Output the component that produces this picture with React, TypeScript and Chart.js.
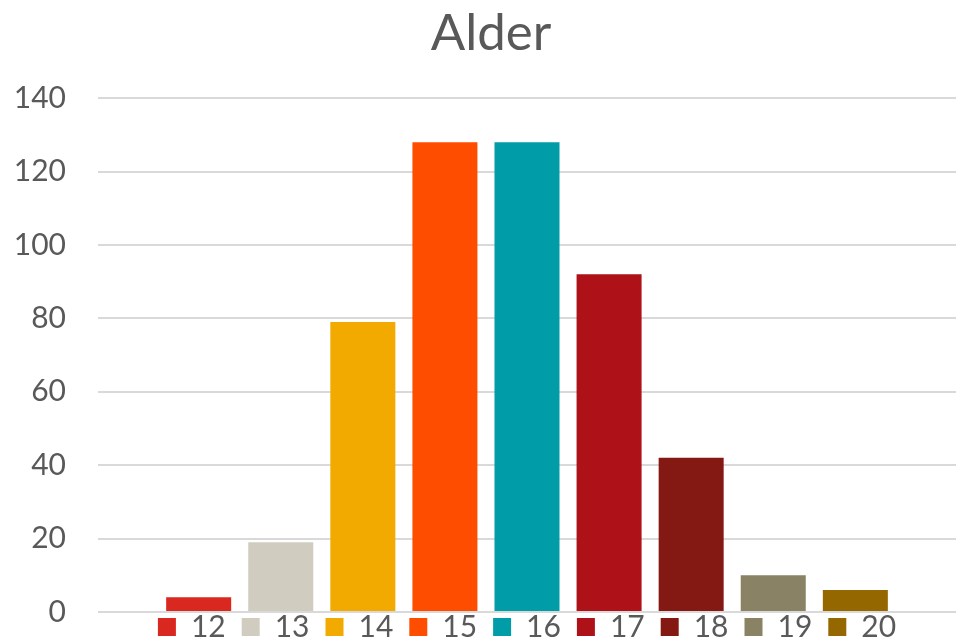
import React, { useEffect, useRef } from "react";
import { Chart, registerables } from "chart.js";

Chart.register(...registerables);

const title = "Alder";
const categories = [""];
const seriesLabels = ["12", "13", "14", "15", "16", "17", "18", "19", "20"];
const seriesValues = [4, 19, 79, 128, 128, 92, 42, 10, 6];
const seriesColors = [
  "#D9281F",
  "#D0CDC0",
  "#F2A900",
  "#FF4D00",
  "#009DA8",
  "#AE1117",
  "#841813",
  "#8A8265",
  "#946700",
];
const yMin = 0;
const yMax = 140;
const yStep = 20;

const TEXT = "#595959";
const FONT = "Lato";

const boxPlace = {
  id: "boxPlace",
  afterLayout(chart: any) {
    const l = chart.legend;
    if (l) {
      l.top = 596;
      l.bottom = 640;
      l.height = 44;
      l.left = 98;
      l.right = 956;
      l.width = 858;
    }
    const t = chart.titleBlock;
    if (t) {
      t.left = 26;
      t.right = 956;
      t.width = 930;
    }
  },
};

export default function App() {
  const ref = useRef<HTMLCanvasElement | null>(null);
  useEffect(() => {
    if (!ref.current) return;
    const chart = new Chart(ref.current, {
      type: "bar",
      data: {
        labels: categories,
        datasets: seriesLabels.map((lab, i) => ({
          label: lab,
          data: [seriesValues[i]],
          backgroundColor: seriesColors[i],
          borderWidth: 0,
          categoryPercentage: 0.861,
          barPercentage: 0.792,
        })),
      },
      options: {
        responsive: false,
        animation: false,
        devicePixelRatio: 1,
        layout: { padding: { left: 0, right: 0, top: 0, bottom: 0 } },
        plugins: {
          tooltip: { enabled: false },
          title: {
            display: true,
            text: title,
            color: TEXT,
            font: { family: FONT, size: 51, weight: "normal" },
            padding: { top: 3, bottom: 34 },
          },
          legend: {
            display: true,
            position: "bottom",
            maxHeight: 28,
            labels: {
              color: TEXT,
              font: { family: FONT, size: 30 },
              boxWidth: 18,
              boxHeight: 18,
              padding: 16,
            },
          },
        },
        scales: {
          x: {
            display: false,
            grid: { display: false },
          },
          y: {
            min: yMin,
            max: yMax,
            border: { display: false },
            grid: {
              color: "#D9D9D9",
              lineWidth: 2,
              drawTicks: true,
              tickLength: 32,
              tickColor: "rgba(0,0,0,0)",
            },
            afterFit: (scale: any) => {
              scale.width = 98;
            },
            ticks: {
              stepSize: yStep,
              color: TEXT,
              padding: 0,
              font: { family: FONT, size: 30 },
            },
          },
        },
      },
      plugins: [boxPlace],
    });
    return () => chart.destroy();
  }, []);
  return (
    <div style={{ position: "fixed", left: 0, top: 0, width: 956, height: 640, background: "#fff" }}>
      <canvas ref={ref} width={956} height={640} />
    </div>
  );
}
